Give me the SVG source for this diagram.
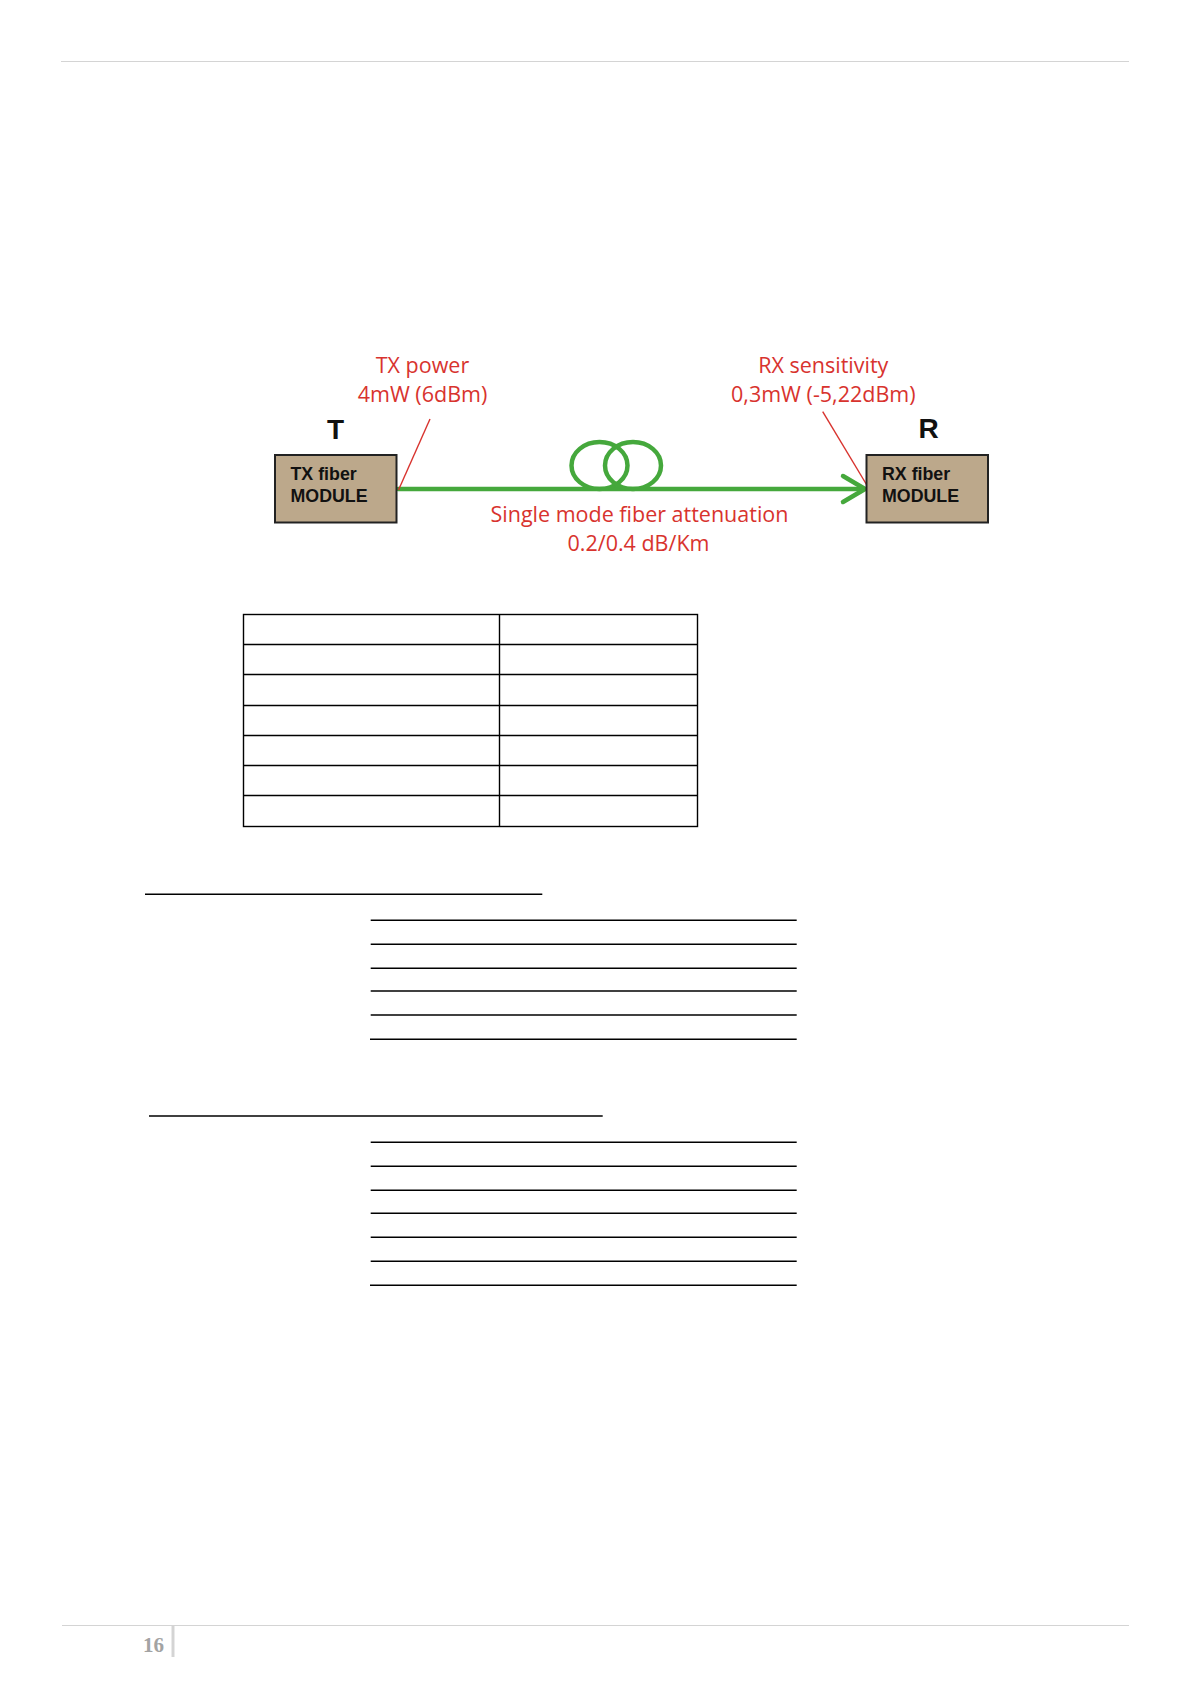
<svg xmlns="http://www.w3.org/2000/svg" width="1191" height="1684" viewBox="0 0 1191 1684">
<style>
.red{font-family:"Open Sans","Noto Sans",sans-serif;font-size:21.5px;fill:#d8332e;text-anchor:middle}
.box{fill:#bca88b;stroke:#222;stroke-width:2}
.blab{font-family:"Liberation Sans",Arial,sans-serif;font-weight:bold;font-size:17.8px;fill:#111}
.big{font-family:"Liberation Sans",Arial,sans-serif;font-weight:bold;font-size:28px;fill:#111;text-anchor:middle}
.fiber{fill:none;stroke:#45a83c;stroke-width:4.5;stroke-linecap:round;stroke-linejoin:round}
.ptr{stroke:#d8332e;stroke-width:1.4;fill:none}
.rule{stroke:#000;stroke-width:1.4}
.grid{fill:none;stroke:#000;stroke-width:1.4}
.pg{stroke:#d4d4d4;stroke-width:1.2}
</style>
<rect width="1191" height="1684" fill="#fff"/>
<line class="pg" x1="61" y1="61.5" x2="1129" y2="61.5"/>
<line class="pg" x1="62" y1="1625.5" x2="1129" y2="1625.5"/>
<line x1="173" y1="1626" x2="173" y2="1657" stroke="#d4d4d4" stroke-width="3"/>
<text x="164" y="1652" font-family="Liberation Serif,serif" font-weight="bold" font-size="21" fill="#a3a3a3" text-anchor="end">16</text>

<g id="connectors">
<line class="fiber" x1="398" y1="489" x2="864" y2="489"/>
<ellipse class="fiber" cx="599.5" cy="465.5" rx="28" ry="23.5"/>
<ellipse class="fiber" cx="633" cy="465.5" rx="28" ry="23.5"/>
<polyline class="fiber" points="843,476 865,489 843,502"/>
<line class="ptr" x1="430" y1="419" x2="398.5" y2="490"/>
<line class="ptr" x1="822.7" y1="411.7" x2="868" y2="487"/>
</g>

<g id="tx">
<rect class="box" x="275" y="455" width="121.5" height="67.5"/>
<text class="blab" x="290.5" y="479.5">TX fiber</text>
<text class="blab" x="290.5" y="501.5">MODULE</text>
<text class="big" x="335.5" y="439">T</text>
</g>
<g id="rx">
<rect class="box" x="866.5" y="455" width="121.5" height="67.5"/>
<text class="blab" x="882" y="479.5">RX fiber</text>
<text class="blab" x="882" y="501.5">MODULE</text>
<text class="big" x="928.5" y="438">R</text>
</g>
<g id="tx-label">
<text class="red" x="422.5" y="373">TX power</text>
<text class="red" x="422.5" y="402">4mW (6dBm)</text>
</g>
<g id="rx-label">
<text class="red" x="823.3" y="373">RX sensitivity</text>
<text class="red" x="823.3" y="402">0,3mW (-5,22dBm)</text>
</g>
<g id="fiber-label">
<text class="red" x="639.5" y="522">Single mode fiber attenuation</text>
<text class="red" x="638.5" y="550.5">0.2/0.4 dB/Km</text>
</g>

<g id="table">
<rect class="grid" x="243.5" y="614.5" width="454" height="212"/>
<line class="rule" x1="499.5" y1="614.5" x2="499.5" y2="826.5"/>
<line class="rule" x1="243.5" y1="644.5" x2="697.5" y2="644.5"/>
<line class="rule" x1="243.5" y1="674.5" x2="697.5" y2="674.5"/>
<line class="rule" x1="243.5" y1="705.5" x2="697.5" y2="705.5"/>
<line class="rule" x1="243.5" y1="735.5" x2="697.5" y2="735.5"/>
<line class="rule" x1="243.5" y1="765.5" x2="697.5" y2="765.5"/>
<line class="rule" x1="243.5" y1="795.5" x2="697.5" y2="795.5"/>
</g>

<g id="lines1">
<line class="rule" x1="145" y1="894.3" x2="542.3" y2="894.3"/>
<line class="rule" x1="370.7" y1="920.3" x2="796.7" y2="920.3"/>
<line class="rule" x1="370.7" y1="944.3" x2="796.7" y2="944.3"/>
<line class="rule" x1="370.7" y1="968.3" x2="796.7" y2="968.3"/>
<line class="rule" x1="370.7" y1="991" x2="796.7" y2="991"/>
<line class="rule" x1="370.7" y1="1015" x2="796.7" y2="1015"/>
<line class="rule" x1="370" y1="1039.3" x2="796.7" y2="1039.3"/>
</g>
<g id="lines2">
<line class="rule" x1="149" y1="1116" x2="602.7" y2="1116"/>
<line class="rule" x1="370.7" y1="1142.3" x2="796.7" y2="1142.3"/>
<line class="rule" x1="370.7" y1="1166.3" x2="796.7" y2="1166.3"/>
<line class="rule" x1="370.7" y1="1190.3" x2="796.7" y2="1190.3"/>
<line class="rule" x1="370.7" y1="1213.3" x2="796.7" y2="1213.3"/>
<line class="rule" x1="370.7" y1="1237.3" x2="796.7" y2="1237.3"/>
<line class="rule" x1="370.7" y1="1261.3" x2="796.7" y2="1261.3"/>
<line class="rule" x1="370" y1="1285.3" x2="796.7" y2="1285.3"/>
</g>
</svg>
